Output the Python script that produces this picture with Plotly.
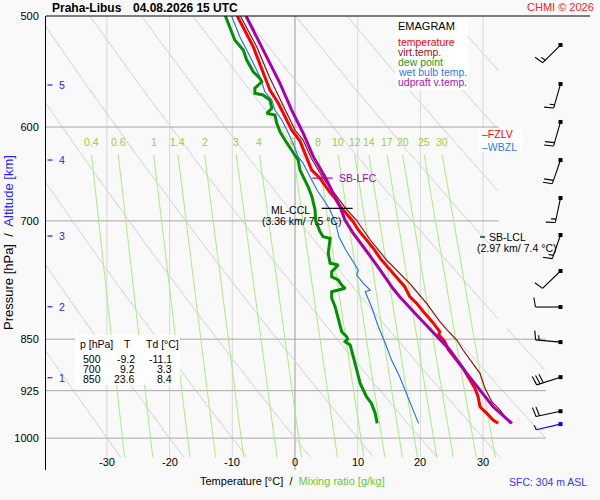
"""
Emagram Praha-Libus, 04.08.2026 15 UTC
"""
import numpy as np
import plotly.graph_objects as go

# sounding profiles (hPa, deg C)
temp_p = [500, 511.6, 525.9, 537.5, 552.4, 564.6, 577.0, 589.9, 602.9, 614, 631.6, 643.9,
          650, 652.7, 665.4, 674.5, 685.7, 700, 710.5, 722.3, 732.2, 744.4, 757, 770,
          779.8, 792.7, 801.4, 814.7, 828.2, 839.7, 844, 850, 853.6, 865.3, 879.7, 891.7,
          904.1, 914, 921.5, 934.3, 949.8, 960.2, 970.8, 976]
temp_c = [-9.2, -8.0, -6.65, -5.85, -4.78, -4.0, -2.66, -1.59, -0.53, 0.8, 1.96, 2.66,
          3.6, 3.99, 5.31, 6.38, 7.45, 9.2, 10.1, 11.4, 12.5, 13.6, 15.0, 16.3,
          17.5, 18.3, 19.4, 20.7, 22.1, 23.1, 22.9, 23.6, 23.9, 24.5, 25.8, 26.8,
          27.6, 28.2, 28.7, 29.2, 29.5, 30.6, 31.6, 32.4]

tv_p = [500, 525.9, 552.4, 577.0, 602.9, 613, 631.6, 652.7, 665.4, 685.7, 699, 722.3,
        746.5, 758.8, 775.5, 801.4, 826, 839.7, 851.2, 865.3, 882, 899.1, 921.5, 942,
        955, 976]
tv_c = [-8.7, -6.1, -4.1, -2.0, 0.0, 1.3, 2.6, 4.5, 5.9, 8.1, 9.8, 12.0,
        14.6, 16.2, 18.3, 21.0, 23.1, 24.5, 25.8, 26.8, 28.2, 29.5, 30.3, 31.4,
        32.7, 34.3]

dew_p = [500, 508.9, 520.1, 528.7, 537.5, 547.9, 553.9, 557, 563, 567.7, 569.2, 573.9,
         581.8, 586.6, 588.3, 596.3, 604.6, 612.9, 623.1, 633.4, 643.9, 651, 661.8,
         672.7, 687.6, 700, 712.5, 718.4, 720.3, 738.3, 750.5, 752.6, 760.9, 767.2,
         771.3, 777.7, 781.9, 786.3, 794.8, 805.9, 823.7, 839.7, 846.6, 850, 853.6,
         858.2, 874.8, 894.2, 914, 934.3, 944.5, 960.2, 976]
dew_c = [-11.1, -10.4, -9.6, -8.25, -7.7, -6.65, -5.6, -5.3, -6.4, -6.4, -5.1, -4.0,
         -3.7, -4.5, -3.2, -2.9, -2.4, -1.6, -0.5, 0.5, 0.8, 1.3, 2.1,
         2.7, 3.2, 3.3, 4.0, 4.5, 5.6, 5.3, 5.6, 6.9, 5.85, 5.85,
         6.9, 7.45, 8.0, 5.85, 5.85, 6.4, 6.9, 7.45, 8.25, 8.4, 8.0,
         8.8, 9.3, 9.8, 10.4, 11.4, 12.2, 12.8, 13.1]

wetbulb_p = [500, 517.3, 528.7, 540.4, 552.4, 566.2, 573.9, 583.5, 593.1, 602.9, 616.2,
             629.9, 636.8, 651, 665.4, 676.4, 687.6, 702.8, 718.4, 734.3, 750.5, 758.8,
             765, 775.5, 784.1, 786.3, 805.9, 832.8, 855.8, 879.7, 904.1, 929.1, 955, 976]
wetbulb_c = [-10.1, -8.8, -7.7, -6.65, -5.6, -4.8, -3.7, -3.2, -2.1, -1.3, -0.3,
             0.5, 1.3, 2.4, 3.5, 4.6, 5.6, 6.5, 7.0, 8.1, 9.5, 10.1,
             9.84, 10.9, 12.0, 11.2, 12.2, 13.3, 14.4, 15.4, 16.7, 17.8, 18.9, 19.7]

parcel_p = [500, 511.6, 534.5, 558.4, 583.5, 606.2, 629.9, 651, 669, 683.8, 699, 714.4,
            730.3, 746.5, 758.8, 781.9, 792.7, 817, 841.9, 865.3, 899.1, 924.1, 949.8, 976]
parcel_c = [-7.8, -6.65, -4.51, -2.39, -0.53, 1.32, 2.92, 4.78, 6.11, 7.18, 7.97, 9.3,
            10.9, 12.5, 13.6, 15.6, 16.7, 19.4, 22.1, 24.7, 27.4, 29.5, 31.6, 34.6]

# wind (direction from, knots)
wind_p = [524.4, 559.1, 595.0, 633.4, 674.2, 716.4, 760.0, 806.3, 854.1, 904.7, 956.8, 977.2]
wind_dir = [225, 196, 196, 199, 192, 199, 226, 270, 275, 252, 258, 257]
wind_kt = [15, 15, 20, 20, 15, 15, 10, 10, 15, 30, 20, 5]

# table in the lower left corner
table_p = [500, 700, 850]
table_t = [-9.2, 9.2, 23.6]
table_td = [-11.1, 3.3, 8.4]

# diagram background
theta_lines = list(range(-30, 100, 10))
mix_ratio = [0.4, 0.6, 1, 1.4, 2, 3, 4, 6, 8, 10, 12, 14, 17, 20, 25, 30]
mix_labels = ["0.4", "0.6", "1", "1.4", "2", "3", "4", "6", "8", "10", "12", "14",
              "17", "20", "25", "30"]
isotherms = [-30, -20, -10, 0, 10, 20, 30]
isobars = [600, 700, 850, 925, 1000]
pres_ticks = [500, 600, 700, 850, 925, 1000]
temp_ticks = [-30, -20, -10, 0, 10, 20, 30]
alt_km = [1, 2, 3, 4, 5]
alt_p = [905.5, 806.0, 717.6, 633.4, 560.0]

# special levels
sb_lcl_p = 718.7
ml_ccl_p = 685.7
sb_lfc_p = 652.5
fzlv_p = 607
wbzl_p = 620

# ---- geometry
W, H = 600, 500
ML, MR, MT, MB = 46, 10, 16, 30
PW, PH = W - ML - MR, H - MT - MB
X0, X1 = -39.71, 47.05
P_TOP, P_BOT = 500.0, 1053.7
P_GRID = 1032.0
PX_DEG = PW / (X1 - X0)
PX_DEC = PH / (np.log10(P_BOT) - np.log10(P_TOP))
BARB_T = X0 + (560.5 - ML) / PX_DEG
STAFF = 25

FONT = "Liberation Sans, Arial, sans-serif"


def fx(px):
    return (px - ML) / PW


def fy(py):
    return 1 - (py - MT) / PH


def grid_edge(p):
    return np.where(np.asarray(p) < 835, 32.5, 40.0)


def td_from_w(w, p):
    e = w * p / (622.0 + w)
    lg = np.log(e / 6.112)
    return 243.5 * lg / (17.67 - lg)


fig = go.Figure()


def add_line(x, y, color, width=1.0):
    fig.add_trace(go.Scatter(x=x, y=y, mode="lines", line=dict(color=color, width=width),
                             hoverinfo="skip", showlegend=False))


# isotherms
for t in isotherms:
    add_line([t, t], [P_TOP, P_BOT if t == 0 else P_GRID],
             "#9a9a9a" if t == 0 else "#d8d8d8")

# dry adiabats
pp = np.linspace(P_TOP, P_GRID, 400)
for th in theta_lines:
    tt = (th + 273.15) * (pp / 1000.0) ** 0.286 - 273.15
    tt = np.where(tt <= grid_edge(pp), tt, np.nan)
    add_line(tt, pp, "#d4d4d4")

# isobars
for p in isobars:
    add_line([X0, float(grid_edge(p))], [p, p], "#a8a8a8")

# mixing ratio lines
pm = np.linspace(628, P_GRID, 40)
for w in mix_ratio:
    add_line(td_from_w(w, pm), pm, "#a6ee7e")

# profiles
add_line(wetbulb_c, wetbulb_p, "#1a6dff", 1.1)
add_line(dew_c, dew_p, "#009000", 3)
add_line(temp_c, temp_p, "#ff0000", 3)
add_line(tv_c, tv_p, "#8b0000", 1.1)
add_line(parcel_c, parcel_p, "#a800b0", 3)

# level markers
add_line([4.26, 9.2], [ml_ccl_p, ml_ccl_p], "#000000", 1.2)
add_line([2.76, 6.0], [sb_lfc_p, sb_lfc_p], "#a800b0", 1.2)
add_line([29.5, 30.3], [sb_lcl_p, sb_lcl_p], "#000000", 1.2)

# altitude ticks
for p in alt_p:
    add_line([X0 + 1.5 / PX_DEG, X0 + 6.5 / PX_DEG], [p, p], "#1f1fff", 1.2)

# wind barbs
for i, (p0, d, kt) in enumerate(zip(wind_p, wind_dir, wind_kt)):
    color = "#0000ff" if i == len(wind_p) - 1 else "#000000"
    ux, uy = np.sin(np.radians(d)), -np.cos(np.radians(d))
    ang = np.arctan2(uy, ux) + np.radians(80)
    bx, by = np.cos(ang), np.sin(ang)
    segs = [((0, 0), (ux * STAFF, uy * STAFF))]
    pos = STAFF
    full, rest = divmod(kt, 10)
    for _ in range(full):
        s = (ux * pos, uy * pos)
        segs.append((s, (s[0] + bx * 9.5, s[1] + by * 9.5)))
        pos -= 3.5
    if rest >= 5:
        s = (ux * pos, uy * pos)
        segs.append((s, (s[0] + bx * 5, s[1] + by * 5)))
    xs, ys = [], []
    for a, b in segs:
        for dx, dy in (a, b):
            xs.append(BARB_T + dx / PX_DEG)
            ys.append(10 ** (np.log10(p0) + dy / PX_DEC))
        xs.append(None)
        ys.append(None)
    add_line(xs, ys, color, 1.1)
    fig.add_trace(go.Scatter(x=[BARB_T], y=[p0], mode="markers",
                             marker=dict(symbol="square", size=4, color=color),
                             hoverinfo="skip", showlegend=False))

ann = []


def text(x, y, s, color="#000000", size=10.5, xanchor="left", xref="paper", yref="paper",
         bold=False, **kw):
    ann.append(dict(x=x, y=y, xref=xref, yref=yref, text=f"<b>{s}</b>" if bold else s,
                    showarrow=False, xanchor=xanchor, yanchor="middle",
                    font=dict(family=FONT, size=size, color=color), **kw))


# title and header
text(fx(50), fy(8), "Praha-Libus", size=12, bold=True)
text(fx(131), fy(8), "04.08.2026 15 UTC", size=12, bold=True)
text(fx(596), fy(7), "CHMI © 2026", color="#ff2020", size=11, xanchor="right")

# x tick labels and mixing ratio labels
for t in temp_ticks:
    text(t, fy(462), str(t), size=11, xanchor="center", xref="x")
for w, lab in zip(mix_ratio, mix_labels):
    text(float(td_from_w(w, 628)), np.log10(615), lab, color="#99d040", size=10.5,
         xanchor="center", xref="x", yref="y")

# altitude labels
for km, p in zip(alt_km, alt_p):
    text(fx(57), np.log10(p), str(km), color="#1f1fff", size=10.5, yref="y")

# axis titles
text(fx(292), fy(481), "Temperature [°C]  /  <span style='color:#66cc33'>Mixing ratio [g/kg]</span>",
     size=11, xanchor="center")
text(fx(8), fy(243), "Pressure [hPa]  /  <span style='color:#1f1fff'>Altitude [km]</span>",
     size=13, xanchor="center", textangle=-90)
text(fx(589), fy(482), "SFC: 304 m ASL", color="#3333ff", xanchor="right")

# legend
text(fx(396), fy(26), "EMAGRAM", size=11)
legend_items = [("temperature", "#ff0000"), ("virt.temp.", "#a01010"), ("dew point", "#229922"),
                ("wet bulb temp.", "#3377ee"), ("udpraft v.temp.", "#a820b0")]
for k, (s, c) in enumerate(legend_items):
    text(fx(396), fy(42.3 + 10 * k), s, color=c, size=10.5)

# levels
text(fx(337), np.log10(sb_lfc_p), "SB-LFC", color="#a800b0", yref="y")
text(fx(312), fy(209.5), "ML-CCL", xanchor="right")
text(fx(301), fy(220.5), "(3.36 km/ 7.5 °C)", xanchor="center")
text(fx(487), np.log10(sb_lcl_p), "SB-LCL", yref="y")
text(fx(516), fy(248), "(2.97 km/ 7.4 °C)", xanchor="center")
text(fx(480), np.log10(fzlv_p), "–FZLV", color="#ff0000", yref="y")
text(fx(480), np.log10(wbzl_p), "–WBZL", color="#3377ee", yref="y")

# table
text(fx(78), fy(343.5), "p [hPa]")
text(fx(127), fy(343.5), "T", xanchor="center")
text(fx(144), fy(343.5), "Td [°C]")
for k, (p, t, td) in enumerate(zip(table_p, table_t, table_td)):
    yy = fy(358.7 + 10 * k)
    text(fx(102.5), yy, str(p), xanchor="right")
    text(fx(137), yy, f"{t:.1f}", xanchor="right")
    text(fx(173.5), yy, f"{td:.1f}", xanchor="right")

shapes = [
    dict(type="line", xref="paper", yref="paper", x0=0, x1=1, y0=1, y1=1,
         line=dict(color="#000000", width=1)),
]
for (a, b, c, d) in [(395, 17, 468, 90), (75, 335, 180, 385), (478, 128, 523, 152)]:
    shapes.append(dict(type="rect", xref="paper", yref="paper", x0=fx(a), x1=fx(c),
                       y0=fy(d), y1=fy(b), fillcolor="#ffffff", line=dict(width=0),
                       layer="above"))

fig.update_layout(
    width=W, height=H, autosize=False,
    margin=dict(l=ML, r=MR, t=MT, b=MB),
    paper_bgcolor="#f9f9f9", plot_bgcolor="#f9f9f9",
    font=dict(family=FONT, size=11, color="#000000"),
    showlegend=False,
    shapes=shapes,
    annotations=ann,
)
fig.update_xaxes(range=[X0, X1], showgrid=False, zeroline=False, showticklabels=False,
                 showline=False, ticks="")
fig.update_yaxes(type="log", range=[np.log10(P_BOT), np.log10(P_TOP)],
                 tickvals=pres_ticks, ticktext=[str(p) for p in pres_ticks],
                 showgrid=False, zeroline=False, showline=True, linecolor="#000000",
                 linewidth=1, ticks="", tickfont=dict(size=11), ticklabelstandoff=4)

# page body has a default 8px margin; drop it so the figure sits at the corner
fig.write_html("out.html", config={"displayModeBar": False},
               post_script="document.body.style.margin='0px';")
